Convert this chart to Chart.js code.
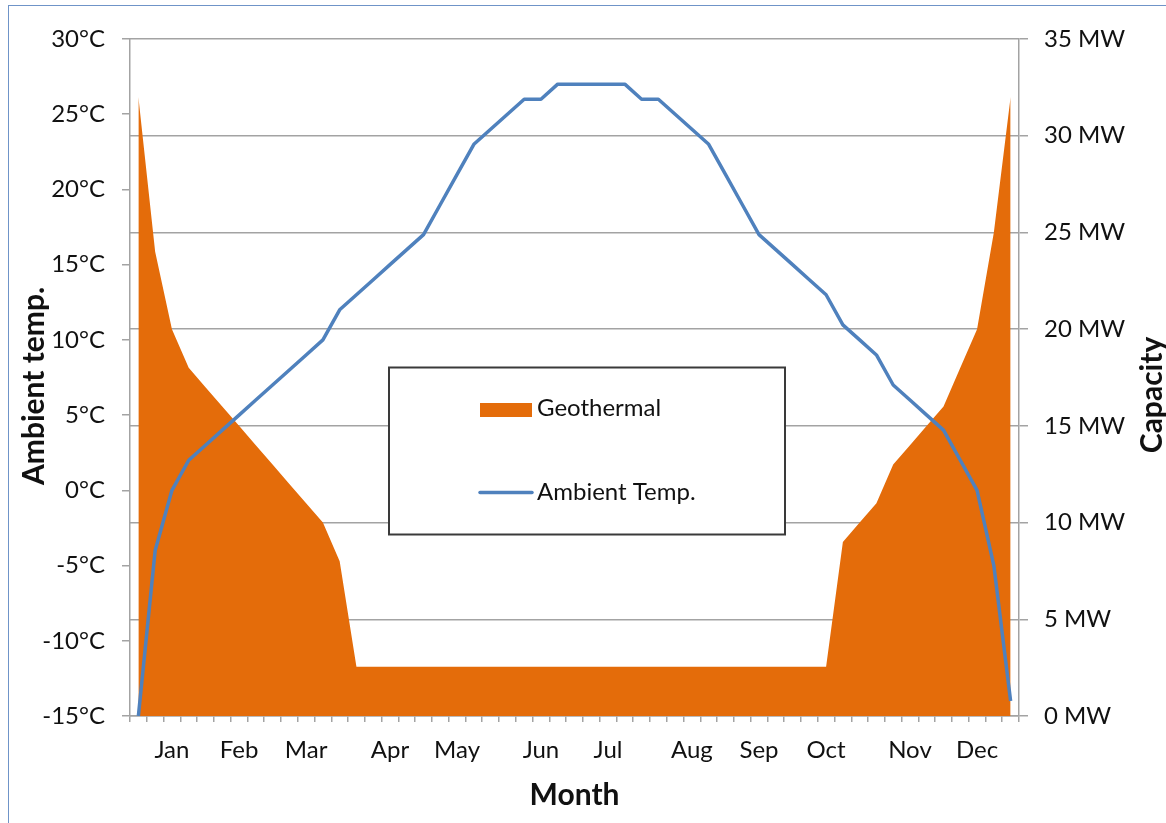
<!DOCTYPE html>
<html><head><meta charset="utf-8">
<script src="https://cdn.jsdelivr.net/npm/chart.js@4.4.1/dist/chart.umd.min.js"></script>
<style>
html,body{margin:0;padding:0;background:#fff;overflow:hidden}
#wrap{position:relative;width:1166px;height:823px}
#frame{position:absolute;left:8px;top:5px;width:1300px;height:1000px;border-left:1.5px solid #6f94c8;border-top:1.5px solid #6f94c8;pointer-events:none}
canvas{position:absolute;left:0;top:0}
</style></head><body>
<div id="wrap"><canvas id="c" width="1166" height="823"></canvas><div id="frame"></div></div>
<script>
// ---- data ----
const monthNames = ['Jan','Feb','Mar','Apr','May','Jun','Jul','Aug','Sep','Oct','Nov','Dec'];
const monthWeek  = [2, 6, 10, 15, 19, 24, 28, 33, 37, 41, 46, 50];
const ambientTemp = [-15,-4,0,2,3,4,5,6,7,8,9,10,12,13,14,15,16,17,19,21,23,24,25,26,26,27,27,27,27,27,26,26,25,24,23,21,19,17,16,15,14,13,11,10,9,7,6,5,4,2,0,-5,-14];
const geothermalMW = [32,24,20,18,17,16,15,14,13,12,11,10,8,2.55,2.55,2.55,2.55,2.55,2.55,2.55,2.55,2.55,2.55,2.55,2.55,2.55,2.55,2.55,2.55,2.55,2.55,2.55,2.55,2.55,2.55,2.55,2.55,2.55,2.55,2.55,2.55,2.55,9,10,11,13,14,15,16,18,20,25,32];
const tempAxis = {min: -15, max: 30, step: 5, unit: '°C'};
const capAxis  = {min: 0, max: 35, step: 5, unit: ' MW'};
const titles = {x: 'Month', left: 'Ambient temp.', right: 'Capacity'};

const categories = ambientTemp.map((_, i) => {
  const k = monthWeek.indexOf(i);
  return k >= 0 ? monthNames[k] : '';
});

const FONT = 'Lato, "Open Sans", sans-serif';
const GRID = '#a3a3a3';
const TICK_SIZE = 24;
const TITLE_SIZE = 30;
Chart.defaults.font.family = FONT;
Chart.defaults.color = '#111';

const boxLegend = {
  id: 'boxLegend',
  afterDraw(chart, args, o) {
    const ctx = chart.ctx;
    ctx.save();
    ctx.fillStyle = '#fff';
    ctx.fillRect(o.x, o.y, o.w, o.h);
    ctx.lineWidth = 2;
    ctx.strokeStyle = '#3a3a3a';
    ctx.strokeRect(o.x, o.y, o.w, o.h);
    const items = chart.data.datasets.slice().sort((a, b) => a.legendOrder - b.legendOrder);
    ctx.font = o.fontSize + 'px ' + FONT;
    ctx.textBaseline = 'alphabetic';
    ctx.textAlign = 'left';
    items.forEach((ds, k) => {
      const base = o.baselines[k];
      if (ds.fill) {
        ctx.fillStyle = ds.backgroundColor;
        ctx.fillRect(o.swX, base - 13, o.swW, 14);
      } else {
        ctx.strokeStyle = ds.borderColor;
        ctx.lineWidth = ds.borderWidth;
        ctx.lineCap = 'round';
        ctx.beginPath();
        ctx.moveTo(o.swX, base - 7.5);
        ctx.lineTo(o.swX + o.swW, base - 7.5);
        ctx.stroke();
      }
      ctx.fillStyle = '#111';
      ctx.fillText(ds.label, o.textX, base);
    });
    ctx.restore();
  }
};

const vTitles = {
  id: 'vTitles',
  afterDraw(chart, args, o) {
    const ctx = chart.ctx;
    ctx.save();
    ctx.font = 'bold ' + o.size + 'px ' + FONT;
    ctx.fillStyle = '#111';
    ctx.textAlign = 'center';
    ctx.textBaseline = 'middle';
    [[titles.left, o.leftX, o.leftY], [titles.right, o.rightX, o.rightY]].forEach(([t, x, y]) => {
      ctx.save();
      ctx.translate(x, y);
      ctx.rotate(-Math.PI / 2);
      ctx.fillText(t, 0, 0);
      ctx.restore();
    });
    ctx.restore();
  }
};

new Chart(document.getElementById('c'), {
  type: 'line',
  data: {
    labels: categories,
    datasets: [
      {label: 'Ambient Temp.', data: ambientTemp, yAxisID: 'y', borderColor: '#4F81BD', backgroundColor: '#4F81BD',
       borderWidth: 3.5, pointRadius: 0, fill: false, tension: 0, order: 0, legendOrder: 1, borderJoinStyle: 'round'},
      {label: 'Geothermal', data: geothermalMW, yAxisID: 'y1', borderColor: '#E46C0A', backgroundColor: '#E46C0A',
       borderWidth: 0, pointRadius: 0, fill: 'origin', tension: 0, order: 1, legendOrder: 0}
    ]
  },
  options: {
    responsive: false, animation: false, devicePixelRatio: 1,
    layout: {padding: {top: 39, left: 0, right: 0, bottom: 0}},
    plugins: {
      legend: {display: false}, tooltip: {enabled: false},
      boxLegend: {x: 389, y: 367.5, w: 396, h: 167, swX: 480, swW: 52, textX: 537, baselines: [416, 500], fontSize: TICK_SIZE},
      vTitles: {size: TITLE_SIZE, leftX: 34, leftY: 386, rightX: 1152, rightY: 395}
    },
    scales: {
      x: {
        type: 'category', offset: true,
        grid: {offset: true, drawOnChartArea: false, drawTicks: true, tickLength: 6, color: GRID, lineWidth: 1.5},
        border: {display: true, color: GRID, width: 1.5},
        ticks: {autoSkip: false, maxRotation: 0, minRotation: 0, padding: 14, color: '#111', font: {size: TICK_SIZE}},
        title: {display: true, text: titles.x, color: '#111', font: {size: TITLE_SIZE, weight: 'bold'}, padding: {top: 0, bottom: 10}},
        afterFit(s) { s.height = 107; }
      },
      y: {
        position: 'left', min: tempAxis.min, max: tempAxis.max,
        ticks: {stepSize: tempAxis.step, padding: 17, color: '#111', font: {size: TICK_SIZE}, callback: v => v + tempAxis.unit},
        grid: {drawOnChartArea: false, drawTicks: true, tickLength: 8, color: GRID, lineWidth: 1.5},
        border: {display: true, color: GRID, width: 1.5},
        afterFit(s) { s.width = 130; }
      },
      y1: {
        position: 'right', min: capAxis.min, max: capAxis.max,
        ticks: {stepSize: capAxis.step, padding: 16, color: '#111', font: {size: TICK_SIZE}, callback: v => v + capAxis.unit},
        grid: {drawOnChartArea: true, drawTicks: true, tickLength: 9, color: GRID, lineWidth: 1.5},
        border: {display: true, color: GRID, width: 1.5},
        afterFit(s) { s.width = 147; }
      }
    }
  },
  plugins: [boxLegend, vTitles]
});
</script>
</body></html>
